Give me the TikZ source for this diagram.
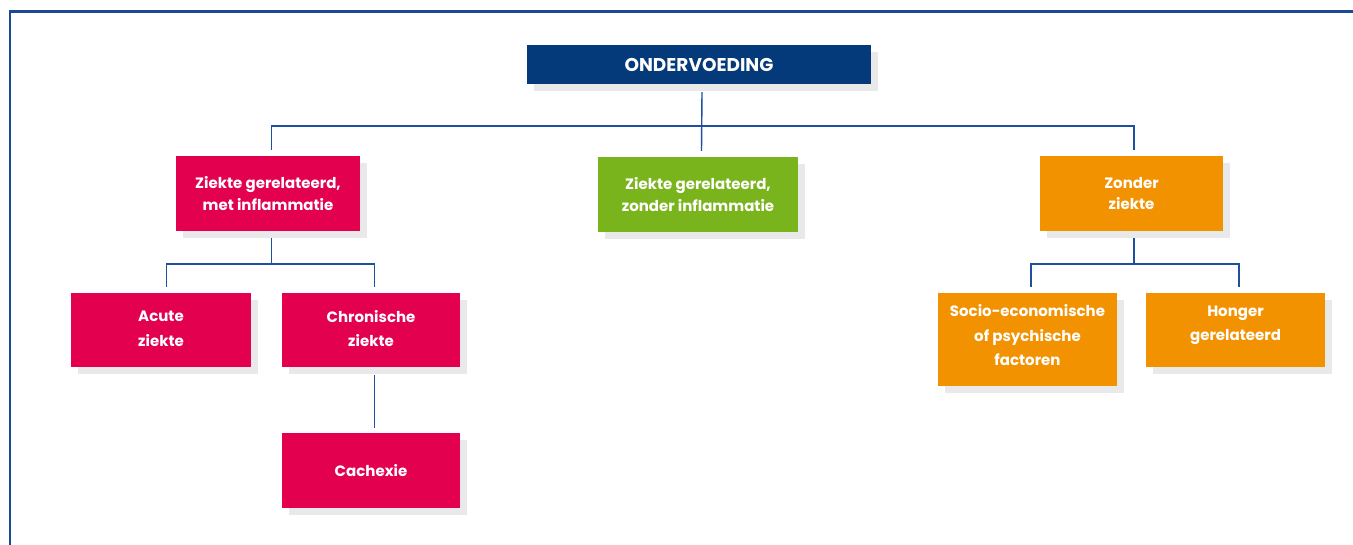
\documentclass[tikz,border=0pt]{standalone}
\usepackage{fontspec}
\setmainfont{Poppins}
\definecolor{navy}{HTML}{04397A}
\definecolor{rood}{HTML}{E2004F}
\definecolor{groen}{HTML}{7AB41D}
\definecolor{oranje}{HTML}{F39200}
\definecolor{schaduw}{HTML}{E9E9E9}
\definecolor{lijn}{HTML}{1F4F9F}
\definecolor{kader}{HTML}{1A4A94}
\newcommand{\lift}[1]{\rule[-#1]{0pt}{#1}}
\tikzset{
  box/.style={rectangle, inner sep=0pt, align=center, text=white,
    font=\bfseries\fontsize{15}{21.5}\selectfont,
    drop shadow={shadow xshift=7pt, shadow yshift=-7pt, fill=schaduw, opacity=1}},
  lowbox/.style={box, font=\bfseries\fontsize{15}{24.5}\selectfont},
  conn/.style={draw=lijn, line width=1.4pt},
}
\usetikzlibrary{shadows}
\begin{document}
\begin{tikzpicture}[x=1pt,y=-1pt]
\useasboundingbox (0,0) rectangle (1353,544);
\fill[white] (0,0) rectangle (1353,544);
\draw[kader, line width=2.4pt] (10,545) -- (10,11.5) -- (1354,11.5);
% nodes
\node[box, fill=navy, minimum width=344pt, minimum height=39pt, font=\bfseries\fontsize{18.5}{22}\selectfont] (top) at (699,64.5) {ONDERVOEDING};
\node[box, fill=rood, minimum width=184pt, minimum height=75pt] (red) at (268,193.5) {Ziekte gerelateerd,\\met inflammatie};
\node[box, fill=groen, minimum width=200pt, minimum height=75pt] (green) at (698,194.5) {Ziekte gerelateerd,\\zonder inflammatie};
\node[box, fill=oranje, minimum width=183pt, minimum height=75pt] (zonder) at (1131.5,193.5) {Zonder\\ziekte};
\node[lowbox, fill=rood, minimum width=180pt, minimum height=74pt] (acute) at (161,330) {Acute\\ziekte\lift{3pt}};
\node[lowbox, fill=rood, minimum width=178pt, minimum height=74pt] (chron) at (371,330) {Chronische\\ziekte\lift{3pt}};
\node[box, fill=rood, minimum width=178pt, minimum height=75pt] (cach) at (371,470.5) {Cachexie};
\node[lowbox, fill=oranje, minimum width=179pt, minimum height=93pt] (socio) at (1027.5,339.5) {Socio-economische\\of psychische\\factoren\lift{9pt}};
\node[lowbox, fill=oranje, minimum width=179pt, minimum height=74pt] (honger) at (1235.5,330) {Honger\\gerelateerd\lift{14pt}};
% connectors
\draw[conn] ([xshift=3pt,yshift=-8pt]top.south) -- ([xshift=3.5pt,yshift=6pt]green.north);
\draw[conn] ([xshift=3.5pt,yshift=6pt]red.north) -- ++(0,-24) -| ([xshift=2.5pt,yshift=6pt]zonder.north);
\draw[conn] ([xshift=3.5pt,yshift=-7pt]red.south) -- ++(0,26);
\draw[conn] ([xshift=5.5pt,yshift=6pt]acute.north) -- ++(0,-23) -| ([xshift=3.5pt,yshift=6pt]chron.north);
\draw[conn] ([xshift=3.5pt,yshift=-8pt]chron.south) -- ([xshift=3.5pt,yshift=5pt]cach.north);
\draw[conn] ([xshift=2.5pt,yshift=-7pt]zonder.south) -- ++(0,26);
\draw[conn] ([xshift=3.5pt,yshift=6pt]socio.north) -- ++(0,-23) -| ([xshift=3.5pt,yshift=6pt]honger.north);
\end{tikzpicture}
\end{document}
